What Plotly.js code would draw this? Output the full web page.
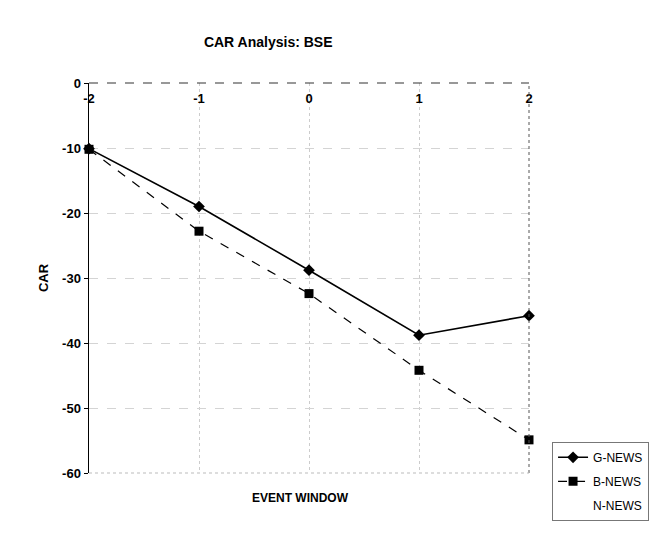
<!DOCTYPE html>
<html>
<head>
<meta charset="utf-8">
<script src="https://cdn.plot.ly/plotly-3.0.1.min.js"></script>
<style>html,body{margin:0;padding:0;background:#fff;}#chart{width:651px;height:544px;}</style>
</head>
<body>
<div id="chart"></div>
<script>
var eventWindow = [-2, -1, 0, 1, 2];
var gNews = [-10.1, -19.0, -28.8, -38.8, -35.8];
var bNews = [-10.2, -22.8, -32.4, -44.2, -54.9];
var nNews = [null, null, null, null, null];
var xTickText = ['-2', '-1', '0', '1', '2'];
var yTickVals = [0, -10, -20, -30, -40, -50, -60];

var fontFam = '"Liberation Sans", Arial, sans-serif';

var traces = [
  {x: eventWindow, y: gNews, name: 'G-NEWS', legendgroup: 'g', mode: 'lines+markers', cliponaxis: false,
   line: {color: '#000', width: 1.6}, marker: {symbol: 'diamond', size: 9, color: '#000'}},
  {x: eventWindow, y: bNews, name: 'B-NEWS', legendgroup: 'b', mode: 'lines+markers', cliponaxis: false,
   line: {color: '#000', width: 1.2, dash: 'dash'}, marker: {symbol: 'square', size: 9, color: '#000'}},
  {x: eventWindow, y: nNews, name: 'N-NEWS', legendgroup: 'n', mode: 'lines',
   line: {color: 'rgba(0,0,0,0)', width: 1}}
];

var layout = {
  width: 651, height: 544,
  margin: {l: 89, r: 122, t: 83, b: 71},
  paper_bgcolor: '#fff', plot_bgcolor: '#fff',
  font: {family: fontFam, color: '#000', size: 12},
  title: {text: '<b>CAR Analysis: BSE</b>', x: 0.412, xanchor: 'center', y: 0.923, yanchor: 'middle',
          font: {family: fontFam, size: 14, color: '#000'}},
  xaxis: {
    range: [-2, 2], side: 'bottom', anchor: 'free', position: 1,
    tickvals: eventWindow, ticktext: xTickText.map(function (t) { return '<b>' + t + '</b>'; }),
    tickfont: {size: 13}, ticks: '', ticklabelstandoff: 6,
    showline: false,
    showgrid: true, gridcolor: '#cccccc', griddash: 'dot', gridwidth: 1,
    zeroline: false
  },
  yaxis: {
    range: [-60, 0], ticks: 'outside', ticklen: 4, tickcolor: '#000',
    tickvals: yTickVals,
    ticktext: yTickVals.map(function (v) { return '<b>' + v + '</b>'; }),
    tickfont: {size: 13},
    showline: true, linecolor: '#000', linewidth: 1.5,
    showgrid: true, gridcolor: '#d4d4d4', griddash: 'dash', gridwidth: 1,
    zeroline: false,
    title: {text: '<b>CAR</b>', font: {size: 13}, standoff: 10}
  },
  annotations: [
    {text: '<b>EVENT WINDOW</b>', xref: 'paper', yref: 'paper', x: 0.48, y: -0.065,
     xanchor: 'center', yanchor: 'middle', showarrow: false, font: {size: 12, family: fontFam}}
  ],
  shapes: [
    {type: 'line', xref: 'paper', yref: 'paper', x0: 0, x1: 1, y0: 1, y1: 1,
     line: {color: '#333', width: 1.2, dash: 'dash'}},
    {type: 'line', xref: 'paper', yref: 'paper', x0: 1, x1: 1, y0: 0, y1: 1,
     line: {color: '#555', width: 1, dash: 'dot'}},
    {type: 'line', xref: 'paper', yref: 'paper', x0: 0, x1: 1, y0: 0, y1: 0,
     line: {color: '#bbb', width: 1, dash: 'dot'}}
  ],
  showlegend: true,
  legend: {xref: 'container', x: 0.848, xanchor: 'left', y: 0.08, yanchor: 'top', traceorder: 'grouped',
           bordercolor: '#777', borderwidth: 1, bgcolor: '#fff',
           font: {size: 12, family: fontFam}, tracegroupgap: 5, itemwidth: 30}
};

Plotly.newPlot('chart', traces, layout, {displayModeBar: false, staticPlot: true});
</script>
</body>
</html>
